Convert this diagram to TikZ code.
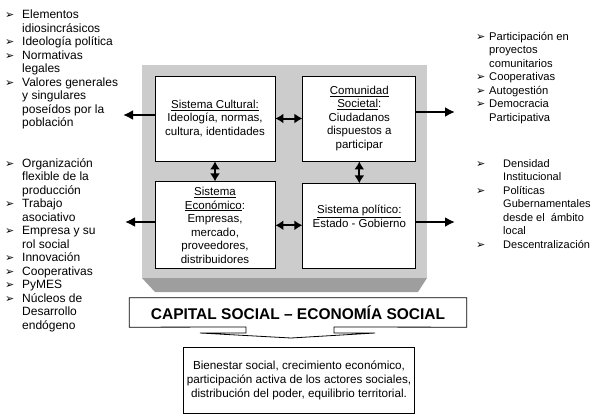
\documentclass[tikz,border=0pt]{standalone}
\usepackage{fontspec}
\setmainfont{Liberation Sans}
\newfontfamily\bulfont{DejaVu Sans}
\usetikzlibrary{positioning,arrows.meta}

\definecolor{marco}{gray}{0.80}
\definecolor{bisel}{gray}{0.62}

\newcommand{\bul}[1][17pt]{\makebox[#1][l]{\bulfont\fontsize{11}{11}\selectfont ➢}}
\newcommand{\ind}[1][17pt]{\hspace*{#1}}

\begin{document}
\begin{tikzpicture}[
    x=1pt, y=-1pt,
    font=\fontsize{11.5}{13.5}\selectfont,
    node distance=20pt,
    caja/.style={draw, line width=0.8pt, fill=white, align=center, inner sep=1pt, minimum width=120pt, minimum height=85pt},
    lista/.style={align=left, anchor=north west, inner sep=0pt, font=\fontsize{12}{13.5}\selectfont},
    flecha/.style={line width=2pt, -{Latex[length=10pt,width=10pt]}},
    doble/.style={line width=2pt, {Latex[length=8pt,width=10pt]}-{Latex[length=8pt,width=10pt]}}
]
\useasboundingbox (0,0) rectangle (596,417);

% Marco gris con bisel inferior
\fill[marco] (142,65) rectangle (427,278);
\fill[bisel] (142,278) -- (427,278) -- (418,292) -- (155,292) -- cycle;

% Los cuatro sistemas
\node (cultural) [caja] at (215,118.5) {\underline{Sistema Cultural:}\\Ideología, normas,\\cultura, identidades};

\node (comunidad) [caja, minimum width=113pt, right=27pt of cultural] {
    \underline{Comunidad}\\\underline{Societal}:\\Ciudadanos\\dispuestos a\\participar
};

\node (economico) [caja, minimum height=87pt, below=20pt of cultural] {
    \underline{Sistema}\\\underline{Económico}:\\Empresas,\\mercado,\\proveedores,\\distribuidores
};

\node (politico) [caja, minimum width=113pt, below=22pt of comunidad] {};
\node (politicotxt) [align=center] at ([yshift=10pt]politico.center) {\underline{Sistema político:}\\Estado - Gobierno};

\draw[doble] (cultural) -- (comunidad);
\draw[doble] (economico.east) -- (economico.east -| politico.west);
\draw[doble] (cultural) -- (economico);
\draw[doble] (comunidad) -- (politico);

% Listas laterales
\node (ideas) [lista] at (5,10) {
    \bul Elementos\\\ind idiosincrásicos\\\bul Ideología política\\\bul Normativas\\\ind legales\\
    \bul Valores generales\\\ind y singulares\\\ind poseídos por la\\\ind población
};

\node (produccion) [lista] at (5,158) {
    \bul Organización\\\ind flexible de la\\\ind producción\\\bul Trabajo\\\ind asociativo\\
    \bul Empresa y su\\\ind rol social\\\bul Innovación\\\bul Cooperativas\\\bul PyMES\\
    \bul Núcleos de\\\ind Desarrollo\\\ind endógeno
};

\node (participacion) [lista, font=\fontsize{11.2}{13.5}\selectfont] at (476,32) {
    \bul[13pt]Participación en\\\ind[13pt]proyectos\\\ind[13pt]comunitarios\\
    \bul[13pt]Cooperativas\\\bul[13pt]Autogestión\\\bul[13pt]Democracia\\\ind[13pt]Participativa
};

\node (institucional) [lista, font=\fontsize{11}{13.5}\selectfont] at (476,159) {
    \bul[27pt]Densidad\\\ind[27pt]Institucional\\\bul[27pt]Políticas\\\ind[27pt]Gubernamentales\\
    \ind[27pt]desde el \ ámbito\\\ind[27pt]local\\\bul[27pt]Descentralización
};

% Flechas hacia las listas
\coordinate (c1) at (123,115);
\coordinate (c2) at (125,222);
\coordinate (c3) at (455,112);
\coordinate (c4) at (455,222);
\draw[flecha] (cultural.west |- c1) -- (c1);
\draw[flecha] (economico.west |- c2) -- (c2);
\draw[flecha] (comunidad.east |- c3) -- (c3);
\draw[flecha] (politico.east |- c4) -- (c4);

% Banda y flecha hacia abajo
\node (capital) [minimum width=337pt, minimum height=29pt, inner sep=0pt,
    font=\bfseries\fontsize{15.5}{16}\selectfont] at (298,312.5) {CAPITAL SOCIAL -- ECONOMÍA SOCIAL};
\draw[line width=0.8pt] (capital.south west) -- (capital.north west) -- (capital.north east)
    -- (capital.south east) -- (334,327) -- (334,333) -- (375,333) -- (291,338)
    -- (200,333) -- (246,333) -- (246,327) -- cycle;

\node (bienestar) [draw, line width=0.8pt, minimum width=228pt, minimum height=66pt, align=center,
    font=\fontsize{11.7}{14}\selectfont] at (299,380) {
    Bienestar social, crecimiento económico,\\participación activa de los actores sociales,\\distribución del poder, equilibrio territorial.
};

\end{tikzpicture}
\end{document}
